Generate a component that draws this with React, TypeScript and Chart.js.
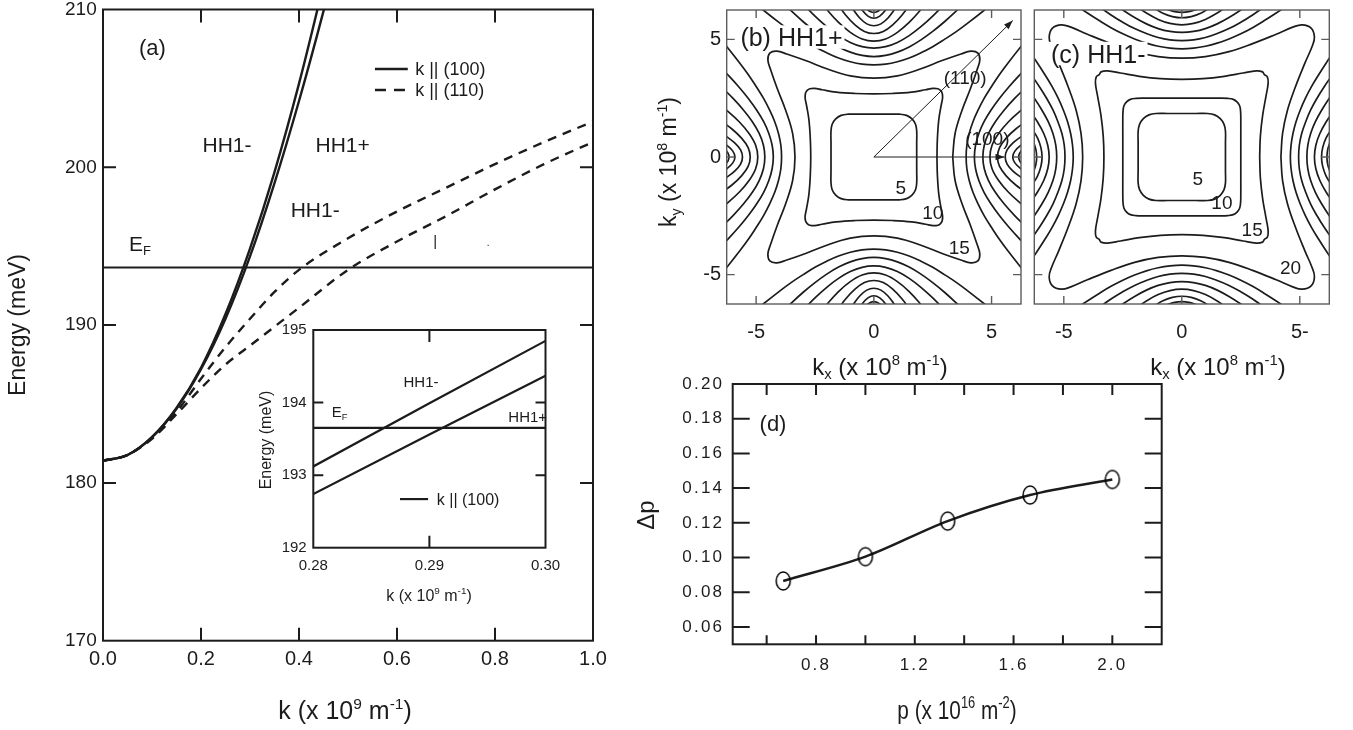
import React, { useEffect, useRef } from 'react';
import { Chart, registerables } from 'chart.js';

Chart.register(...registerables);

const FONT = '"Liberation Sans", Arial, Helvetica, sans-serif';
const INK = '#1c1c1c';
const FRAME_GRAY = '#5c5c5c';
Chart.defaults.font.family = FONT;

type Pt = [number, number];

// ================= (a) HH1 dispersion =================
const kAxisTicks = [0, 0.2, 0.4, 0.6, 0.8, 1.0];
const eAxisTicks = [170, 180, 190, 200, 210];
const kInnerMarks = [0.2, 0.4, 0.6, 0.8];
const eInnerMarks = [180, 190, 200];

const k100 = [0, 0.05, 0.1, 0.15, 0.2, 0.25, 0.3, 0.35, 0.4, 0.45, 0.5];
const eHH1minus100 = [181.4, 181.77, 182.9, 184.75, 187.3, 190.7, 194.85, 199.7, 205.3, 211.6, 218.3];
const eHH1plus100 = [181.4, 181.77, 182.9, 184.7, 187.2, 190.4, 194.35, 199.0, 204.2, 209.9, 216.0];

const k110 = [0, 0.05, 0.1, 0.15, 0.2, 0.25, 0.3, 0.35, 0.4, 0.5, 0.6, 0.7, 0.8, 0.9, 1.0];
const eHH1minus110 = [181.4, 181.77, 182.85, 184.5, 186.6, 188.6, 190.4, 192.1, 193.5, 195.5, 197.2, 198.7, 200.2, 201.6, 202.9];
const eHH1plus110 = [181.4, 181.77, 182.8, 184.35, 186.0, 187.5, 188.7, 189.9, 191.1, 193.5, 195.3, 196.9, 198.6, 200.2, 201.6];

const eFermi = 193.65;
const kFermiSpan = [0, 1];

// inset
const kInsetTicks = [0.28, 0.29, 0.3];
const eInsetTicks = [192, 193, 194, 195];
const kInsetMarks = [0.29];
const eInsetMarks = [193, 194];
const kInset = [0.28, 0.29, 0.3];
const eInsetMinus = [193.12, 193.99, 194.85];
const eInsetPlus = [192.74, 193.56, 194.37];
const kInsetFermiSpan = [0.28, 0.3];

// ================= (b), (c) constant-energy contours =================
const kContourTicks = [-5, 0, 5];
const kContourLabelsC = ['-5', '0', '5-'];
const arrowOrigin: Pt = [0, 0];
const arrow110: Pt = [5.9, 5.8];
const arrow100: Pt = [5.55, 0];

// closed contours: first octant, from the +kx axis to the diagonal
const contourB5: Pt[] = [[1.82, 0], [1.82, 0.6], [1.82, 1.1], [1.77, 1.39], [1.62, 1.62]];
const contourB10: Pt[] = [[2.68, 0], [2.7, 0.8], [2.76, 1.6], [2.86, 2.2], [2.92, 2.52], [2.9, 2.72], [2.83, 2.83]];
const contourB15: Pt[] = [[3.35, 0], [3.45, 1.0], [3.75, 2.0], [4.1, 2.9], [4.38, 3.7], [4.5, 4.12], [4.42, 4.42]];
// open contours: upper half of the +kx branch, from its vertex outwards
const openB: Pt[][] = [
  [[3.92, 0], [3.95, 0.5], [4.05, 1], [4.21, 1.5], [4.43, 2], [4.69, 2.5], [5.0, 3], [5.33, 3.5], [5.7, 4], [6.25, 4.7], [6.66, 5.2]],
  [[4.27, 0], [4.32, 0.5], [4.46, 1], [4.68, 1.5], [4.98, 2], [5.34, 2.5], [5.75, 3], [6.25, 3.55], [6.68, 4]],
  [[4.63, 0], [4.69, 0.5], [4.87, 1], [5.16, 1.5], [5.54, 2], [5.99, 2.5], [6.5, 3]],
  [[4.93, 0], [5.02, 0.5], [5.3, 1], [5.72, 1.5], [6.27, 2], [6.65, 2.3]],
  [[5.25, 0], [5.34, 0.4], [5.62, 0.8], [6.04, 1.2], [6.59, 1.6]],
  [[5.58, 0], [5.66, 0.3], [5.91, 0.6], [6.3, 0.9]],
  [[5.9, 0], [5.99, 0.25], [6.25, 0.5], [6.57, 0.7]],
  [[6.15, 0], [6.19, 0.15], [6.29, 0.3]],
];

const contourC5: Pt[] = [[1.85, 0], [1.85, 0.6], [1.85, 1.1], [1.79, 1.39], [1.63, 1.63]];
const contourC10: Pt[] = [[2.5, 0], [2.5, 0.9], [2.5, 1.6], [2.49, 1.95], [2.45, 2.18], [2.34, 2.34]];
const contourC15: Pt[] = [[3.3, 0], [3.33, 0.9], [3.43, 1.8], [3.57, 2.6], [3.66, 3.15], [3.62, 3.42], [3.5, 3.5]];
const contourC20: Pt[] = [[4.2, 0], [4.27, 1.0], [4.48, 2.0], [4.82, 3.0], [5.22, 4.0], [5.52, 4.7], [5.62, 5.1], [5.48, 5.48]];
const openC: Pt[][] = [
  [[4.6, 0], [4.63, 0.5], [4.71, 1], [4.84, 1.5], [5.02, 2], [5.24, 2.5], [5.5, 3], [5.8, 3.5], [6.12, 4], [6.53, 4.6]],
  [[4.95, 0], [4.98, 0.5], [5.08, 1], [5.25, 1.5], [5.46, 2], [5.73, 2.5], [6.04, 3], [6.39, 3.5]],
  [[5.3, 0], [5.34, 0.5], [5.46, 1], [5.66, 1.5], [5.93, 2], [6.25, 2.5], [6.47, 2.8]],
  [[5.62, 0], [5.68, 0.5], [5.85, 1], [6.12, 1.5], [6.4, 1.9]],
  [[5.92, 0], [5.97, 0.4], [6.11, 0.8], [6.35, 1.2]],
  [[6.15, 0], [6.18, 0.3], [6.27, 0.6], [6.36, 0.8]],
];

// ================= (d) spin polarisation =================
const pTicks = [0.8, 1.2, 1.6, 2.0];
const pMarks = [0.6, 0.8, 1.0, 1.2, 1.4, 1.6, 1.8, 2.0];
const dpTicks = [0.06, 0.08, 0.1, 0.12, 0.14, 0.16, 0.18, 0.2];
const pDensity = [0.667, 1.0, 1.333, 1.667, 2.0];
const deltaP = [0.0865, 0.1005, 0.121, 0.136, 0.145];

// ================= helpers =================
const xy = (xs: number[], ys: number[]) => xs.map((x, i) => ({ x, y: ys[i] }));
const ptsXY = (c: Pt[]) => c.map(([x, y]) => ({ x, y }));

function closedLoop(oct: Pt[]): Pt[] {
  const q1: Pt[] = [...oct, ...oct.slice(0, -1).reverse().map(([x, y]) => [y, x] as Pt)];
  const q2 = q1.slice().reverse().map(([x, y]) => [-x, y] as Pt);
  const q3 = q1.map(([x, y]) => [-x, -y] as Pt);
  const q4 = q1.slice().reverse().map(([x, y]) => [x, -y] as Pt);
  return [...q1, ...q2.slice(1), ...q3.slice(1), ...q4.slice(1)];
}
function openCurve(half: Pt[]): Pt[] {
  return [...half.slice(1).reverse().map(([x, y]) => [x, -y] as Pt), ...half];
}
function fourFold(c: Pt[]): Pt[][] {
  return [
    c,
    c.map(([x, y]) => [-x, y] as Pt),
    c.map(([x, y]) => [y, x] as Pt),
    c.map(([x, y]) => [y, -x] as Pt),
  ];
}

function parseRich(s: string) {
  const segs: { t: string; m: number }[] = [];
  let buf = '';
  let i = 0;
  while (i < s.length) {
    const c = s[i];
    if ((c === '^' || c === '_') && s[i + 1] === '{') {
      if (buf) { segs.push({ t: buf, m: 0 }); buf = ''; }
      const j = s.indexOf('}', i);
      segs.push({ t: s.slice(i + 2, j), m: c === '^' ? 1 : 2 });
      i = j + 1;
    } else { buf += c; i++; }
  }
  if (buf) segs.push({ t: buf, m: 0 });
  return segs;
}

function drawRich(ctx: CanvasRenderingContext2D, s: string, x: number, y: number, size: number,
  align: 'left' | 'center' | 'right' = 'center', rot = 0, sx = 1, bg = false) {
  const segs = parseRich(s);
  const small = size * 0.62;
  ctx.save();
  ctx.translate(x, y);
  if (rot) ctx.rotate(rot);
  if (sx !== 1) ctx.scale(sx, 1);
  ctx.textAlign = 'left';
  ctx.textBaseline = 'alphabetic';
  const widths = segs.map((g) => { ctx.font = `${g.m ? small : size}px ${FONT}`; return ctx.measureText(g.t).width; });
  const total = widths.reduce((a, b) => a + b, 0);
  let cx = align === 'center' ? -total / 2 : align === 'right' ? -total : 0;
  if (bg) { ctx.fillStyle = '#ffffff'; ctx.fillRect(cx - 2, -size * 0.47, total + 4, size * 0.94); }
  ctx.fillStyle = INK;
  const base = size * 0.36;
  segs.forEach((g, i) => {
    ctx.font = `${g.m ? small : size}px ${FONT}`;
    const dy = g.m === 1 ? -size * 0.42 : g.m === 2 ? size * 0.2 : 0;
    ctx.fillText(g.t, cx, base + dy);
    cx += widths[i];
  });
  ctx.restore();
}

type Mark = { side: 'top' | 'bottom' | 'left' | 'right'; values: number[]; len: number };
type Txt = { x: number; y: number; s: string; size: number; align?: 'left' | 'center' | 'right'; bg?: boolean };
type Ttl = { x: number; y: number; s: string; size: number; rot?: boolean; sx?: number };
type Leg = { x0: number; x1: number; y: number; width: number; dash?: number[] };
type Decor = {
  off: Pt; boxColor: string; boxWidth: number; markColor: string; markWidth: number; marks: Mark[];
  texts?: Txt[]; titles?: Ttl[]; legend?: Leg[]; arrows?: { from: Pt; to: Pt }[]; spacing?: string;
};

function makeDecor(d: Decor) {
  return {
    id: 'decor',
    beforeDraw(chart: any) {
      if (d.spacing) (chart.ctx as any).letterSpacing = d.spacing;
    },
    afterDraw(chart: any) {
      const ctx = chart.ctx as CanvasRenderingContext2D;
      const { left, right, top, bottom } = chart.chartArea;
      const X = chart.scales.x;
      const Y = chart.scales.y;
      ctx.save();
      (ctx as any).letterSpacing = '0px';
      for (const l of d.legend || []) {
        ctx.beginPath();
        ctx.setLineDash(l.dash || []);
        ctx.lineWidth = l.width;
        ctx.strokeStyle = INK;
        const py = Y.getPixelForValue(l.y);
        ctx.moveTo(X.getPixelForValue(l.x0), py);
        ctx.lineTo(X.getPixelForValue(l.x1), py);
        ctx.stroke();
      }
      ctx.setLineDash([]);
      for (const a of d.arrows || []) {
        const x0 = X.getPixelForValue(a.from[0]), y0 = Y.getPixelForValue(a.from[1]);
        const x1 = X.getPixelForValue(a.to[0]), y1 = Y.getPixelForValue(a.to[1]);
        const ang = Math.atan2(y1 - y0, x1 - x0);
        const L = 9, W = 3.2;
        ctx.beginPath();
        ctx.moveTo(x1, y1);
        ctx.lineTo(x1 - L * Math.cos(ang) + W * Math.sin(ang), y1 - L * Math.sin(ang) - W * Math.cos(ang));
        ctx.lineTo(x1 - L * Math.cos(ang) - W * Math.sin(ang), y1 - L * Math.sin(ang) + W * Math.cos(ang));
        ctx.closePath();
        ctx.fillStyle = INK;
        ctx.fill();
      }
      for (const t of d.texts || []) {
        drawRich(ctx, t.s, X.getPixelForValue(t.x), Y.getPixelForValue(t.y), t.size, t.align || 'center', 0, 1, !!t.bg);
      }
      ctx.strokeStyle = d.boxColor;
      ctx.lineWidth = d.boxWidth;
      ctx.strokeRect(left, top, right - left, bottom - top);
      ctx.strokeStyle = d.markColor;
      ctx.lineWidth = d.markWidth;
      ctx.beginPath();
      for (const m of d.marks) {
        for (const v of m.values) {
          if (m.side === 'bottom') { const p = X.getPixelForValue(v); ctx.moveTo(p, bottom); ctx.lineTo(p, bottom - m.len); }
          if (m.side === 'top') { const p = X.getPixelForValue(v); ctx.moveTo(p, top); ctx.lineTo(p, top + m.len); }
          if (m.side === 'left') { const p = Y.getPixelForValue(v); ctx.moveTo(left, p); ctx.lineTo(left + m.len, p); }
          if (m.side === 'right') { const p = Y.getPixelForValue(v); ctx.moveTo(right, p); ctx.lineTo(right - m.len, p); }
        }
      }
      ctx.stroke();
      for (const t of d.titles || []) {
        drawRich(ctx, t.s, t.x - d.off[0], t.y - d.off[1], t.size, 'center', t.rot ? -Math.PI / 2 : 0, t.sx || 1);
      }
      ctx.restore();
    },
  };
}

type AxisSpec = {
  min: number; max: number; ticks: number[]; size: number; pad: number; fit: number; horizontal: boolean;
  fmt?: (v: number) => string; show?: boolean;
};
function axis(a: AxisSpec) {
  return {
    type: 'linear',
    position: a.horizontal ? 'bottom' : 'left',
    min: a.min,
    max: a.max,
    grid: { display: false, drawTicks: false },
    border: { display: false },
    ticks: {
      display: a.show !== false,
      autoSkip: false,
      maxRotation: 0,
      minRotation: 0,
      padding: a.pad,
      color: INK,
      font: { family: FONT, size: a.size },
      callback: (v: any) => (a.fmt ? a.fmt(Number(v)) : String(v)),
    },
    afterBuildTicks: (s: any) => { s.ticks = a.ticks.map((value) => ({ value })); },
    afterFit: (s: any) => {
      if (a.horizontal) s.height = a.fit; else s.width = a.fit;
      s.paddingLeft = 0; s.paddingRight = 0; s.paddingTop = 0; s.paddingBottom = 0;
    },
  };
}

function baseOptions(padding: any, x: any, y: any) {
  return {
    responsive: false,
    animation: false,
    devicePixelRatio: 1,
    events: [],
    layout: { padding },
    plugins: { legend: { display: false }, tooltip: { enabled: false }, title: { display: false } },
    scales: { x, y },
  };
}

const lineDs = (data: any[], extra: any = {}) => ({
  data, showLine: true, pointRadius: 0, borderColor: INK, borderWidth: 2.4, fill: false, ...extra,
});

function contourSets(closed: Pt[][], open: Pt[][]) {
  const sets: any[] = [];
  for (const oct of closed) sets.push(lineDs(ptsXY(closedLoop(oct)), { borderWidth: 1.7, tension: 0.4 }));
  for (const half of open) {
    for (const c of fourFold(openCurve(half))) sets.push(lineDs(ptsXY(c), { borderWidth: 1.7, tension: 0.4 }));
  }
  return sets;
}

// ================= chart builders =================
function buildA() {
  const mono = { cubicInterpolationMode: 'monotone' };
  return {
    type: 'scatter',
    data: {
      datasets: [
        lineDs(xy(k100, eHH1minus100), { ...mono, borderWidth: 2.4 }),
        lineDs(xy(k100, eHH1plus100), { ...mono, borderWidth: 2.4 }),
        lineDs(xy(k110, eHH1minus110), { ...mono, borderWidth: 2.4, borderDash: [9, 7] }),
        lineDs(xy(k110, eHH1plus110), { ...mono, borderWidth: 2.4, borderDash: [9, 7] }),
        lineDs(xy(kFermiSpan, [eFermi, eFermi]), { borderWidth: 2.2 }),
      ],
    },
    options: baseOptions(
      { left: 0, top: 9.5, right: 27, bottom: 0 },
      axis({ min: 0, max: 1, ticks: kAxisTicks, size: 20, pad: 6.3, fit: 89.3, horizontal: true, fmt: (v) => v.toFixed(1) }),
      axis({ min: 170, max: 210, ticks: eAxisTicks, size: 19, pad: 6.3, fit: 103, horizontal: false }),
    ),
    plugins: [makeDecor({
      off: [0, 0], boxColor: INK, boxWidth: 2, markColor: INK, markWidth: 2,
      marks: [
        { side: 'bottom', values: kInnerMarks, len: 13 }, { side: 'top', values: kInnerMarks, len: 13 },
        { side: 'left', values: eInnerMarks, len: 13 }, { side: 'right', values: eInnerMarks, len: 13 },
      ],
      legend: [
        { x0: 0.555, x1: 0.622, y: 206.23, width: 2.5 },
        { x0: 0.555, x1: 0.622, y: 204.9, width: 2.5, dash: [11, 8] },
      ],
      texts: [
        { x: 0.101, y: 207.6, s: '(a)', size: 22 },
        { x: 0.253, y: 201.45, s: 'HH1-', size: 21 },
        { x: 0.489, y: 201.45, s: 'HH1+', size: 21 },
        { x: 0.433, y: 197.3, s: 'HH1-', size: 21 },
        { x: 0.0755, y: 195.2, s: 'E_{F}', size: 21 },
        { x: 0.637, y: 206.23, s: 'k || (100)', size: 18, align: 'left' },
        { x: 0.637, y: 204.9, s: 'k || (110)', size: 18, align: 'left' },
        { x: 0.678, y: 195.36, s: '|', size: 15 },
        { x: 0.786, y: 195.25, s: '.', size: 10 },
      ],
      titles: [
        { x: 345, y: 710, s: 'k (x 10^{9} m^{-1})', size: 25 },
        { x: 17, y: 325, s: 'Energy (meV)', size: 23, rot: true },
      ],
    })],
  };
}

function buildInset() {
  return {
    type: 'scatter',
    data: {
      datasets: [
        lineDs(xy(kInset, eInsetMinus), { borderWidth: 2.2 }),
        lineDs(xy(kInset, eInsetPlus), { borderWidth: 2.2 }),
        lineDs(xy(kInsetFermiSpan, [eFermi, eFermi]), { borderWidth: 2.2 }),
      ],
    },
    options: baseOptions(
      { left: 0, top: 12, right: 24.5, bottom: 0 },
      axis({ min: 0.28, max: 0.3, ticks: kInsetTicks, size: 15, pad: 9.3, fit: 62.3, horizontal: true, fmt: (v) => v.toFixed(2) }),
      axis({ min: 192, max: 195, ticks: eInsetTicks, size: 15, pad: 6.6, fit: 73.3, horizontal: false }),
    ),
    plugins: [makeDecor({
      off: [240, 318], boxColor: INK, boxWidth: 2, markColor: INK, markWidth: 2,
      marks: [
        { side: 'bottom', values: kInsetMarks, len: 12 }, { side: 'top', values: kInsetMarks, len: 12 },
        { side: 'left', values: eInsetMarks, len: 10 }, { side: 'right', values: eInsetMarks, len: 10 },
      ],
      legend: [{ x0: 0.28747, x1: 0.28989, y: 192.67, width: 2.2 }],
      texts: [
        { x: 0.28928, y: 194.29, s: 'HH1-', size: 15 },
        { x: 0.28159, y: 193.87, s: 'E_{F}', size: 15, align: 'left' },
        { x: 0.29847, y: 193.8, s: 'HH1+', size: 15 },
        { x: 0.29064, y: 192.67, s: 'k || (100)', size: 16, align: 'left' },
      ],
      titles: [
        { x: 265, y: 440, s: 'Energy (meV)', size: 16, rot: true },
        { x: 429, y: 595, s: 'k (x 10^{9} m^{-1})', size: 16 },
      ],
    })],
  };
}

function buildB() {
  return {
    type: 'scatter',
    data: {
      datasets: [
        ...contourSets([contourB5, contourB10, contourB15], openB),
        lineDs(ptsXY([arrowOrigin, arrow110]), { borderWidth: 1 }),
        lineDs(ptsXY([arrowOrigin, arrow100]), { borderWidth: 1 }),
      ],
    },
    options: baseOptions(
      { left: 0, top: 10, right: 9, bottom: 0 },
      axis({ min: -6.25, max: 6.25, ticks: kContourTicks, size: 20, pad: 16, fit: 81, horizontal: true }),
      axis({ min: -6.25, max: 6.25, ticks: kContourTicks, size: 20, pad: 5.7, fit: 86.7, horizontal: false }),
    ),
    plugins: [makeDecor({
      off: [640, 0], boxColor: FRAME_GRAY, boxWidth: 1.4, markColor: FRAME_GRAY, markWidth: 1.4,
      marks: [
        { side: 'bottom', values: kContourTicks, len: 8 }, { side: 'top', values: kContourTicks, len: 8 },
        { side: 'left', values: kContourTicks, len: 8 }, { side: 'right', values: kContourTicks, len: 8 },
      ],
      arrows: [{ from: arrowOrigin, to: arrow110 }, { from: arrowOrigin, to: arrow100 }],
      texts: [
        { x: -3.5, y: 5.1, s: '(b) HH1+', size: 25, bg: true },
        { x: 1.14, y: -1.3, s: '5', size: 19 },
        { x: 2.5, y: -2.35, s: '10', size: 19 },
        { x: 3.63, y: -3.83, s: '15', size: 19 },
        { x: 3.88, y: 3.38, s: '(110)', size: 19 },
        { x: 4.82, y: 0.79, s: '(100)', size: 19 },
      ],
      titles: [
        { x: 880, y: 366, s: 'k_{x} (x 10^{8} m^{-1})', size: 24 },
        { x: 668, y: 162, s: 'k_{y} (x 10^{8} m^{-1})', size: 23, rot: true },
      ],
    })],
  };
}

function buildC() {
  return {
    type: 'scatter',
    data: { datasets: contourSets([contourC5, contourC10, contourC15, contourC20], openC) },
    options: baseOptions(
      { left: 0, top: 10, right: 23.7, bottom: 0 },
      axis({
        min: -6.25, max: 6.25, ticks: kContourTicks, size: 20, pad: 16, fit: 81, horizontal: true,
        fmt: (v) => kContourLabelsC[kContourTicks.indexOf(v)] ?? String(v),
      }),
      axis({ min: -6.25, max: 6.25, ticks: kContourTicks, size: 20, pad: 5, fit: 4.3, horizontal: false, show: false }),
    ),
    plugins: [makeDecor({
      off: [1030, 0], boxColor: FRAME_GRAY, boxWidth: 1.4, markColor: FRAME_GRAY, markWidth: 1.4,
      marks: [
        { side: 'bottom', values: kContourTicks, len: 8 }, { side: 'top', values: kContourTicks, len: 8 },
        { side: 'left', values: kContourTicks, len: 8 }, { side: 'right', values: kContourTicks, len: 8 },
      ],
      texts: [
        { x: -3.54, y: 4.4, s: '(c) HH1-', size: 25, bg: true },
        { x: 0.68, y: -0.88, s: '5', size: 19 },
        { x: 1.7, y: -1.94, s: '10', size: 19 },
        { x: 2.98, y: -3.06, s: '15', size: 19 },
        { x: 4.61, y: -4.69, s: '20', size: 19 },
      ],
      titles: [{ x: 1218, y: 366, s: 'k_{x} (x 10^{8} m^{-1})', size: 24 }],
    })],
  };
}

function ringImage() {
  const c = document.createElement('canvas');
  c.width = 18;
  c.height = 22;
  const g = c.getContext('2d')!;
  g.strokeStyle = '#000000';
  g.lineWidth = 1.5;
  g.beginPath();
  g.ellipse(9, 11, 7, 9, 0, 0, Math.PI * 2);
  g.stroke();
  return c;
}

function buildD() {
  return {
    type: 'scatter',
    data: {
      datasets: [
        lineDs(xy(pDensity, deltaP), {
          borderWidth: 2.5, cubicInterpolationMode: 'monotone',
          pointRadius: 7, pointStyle: ringImage(),
        }),
      ],
    },
    options: baseOptions(
      { left: 0, top: 12, right: 191.3, bottom: 0 },
      axis({ min: 0.4625, max: 2.2, ticks: pTicks, size: 17, pad: 10.5, fit: 85.7, horizontal: true, fmt: (v) => v.toFixed(1) }),
      axis({ min: 0.05, max: 0.2, ticks: dpTicks, size: 17, pad: 8.5, fit: 112.7, horizontal: false, fmt: (v) => v.toFixed(2) }),
    ),
    plugins: [makeDecor({
      off: [620, 372], boxColor: INK, boxWidth: 2, markColor: INK, markWidth: 2, spacing: '2.2px',
      marks: [
        { side: 'bottom', values: pMarks, len: 9 }, { side: 'top', values: pMarks, len: 11 },
        { side: 'left', values: dpTicks, len: 17 }, { side: 'right', values: dpTicks, len: 17 },
      ],
      texts: [{ x: 0.6257, y: 0.1775, s: '(d)', size: 22 }],
      titles: [
        { x: 957, y: 710, s: 'p (x 10^{16} m^{-2})', size: 26, sx: 0.8 },
        { x: 645, y: 515, s: 'Δp', size: 24, rot: true },
      ],
    })],
  };
}

function Panel({ left, top, width, height, build }: { left: number; top: number; width: number; height: number; build: () => any }) {
  const ref = useRef<HTMLCanvasElement | null>(null);
  useEffect(() => {
    if (!ref.current) return;
    const chart = new Chart(ref.current, build());
    return () => chart.destroy();
  }, [build]);
  return (
    <canvas
      ref={ref}
      width={width}
      height={height}
      style={{ position: 'absolute', left, top, width, height }}
    />
  );
}

export default function App() {
  return (
    <div style={{ position: 'absolute', left: 0, top: 0, width: 1353, height: 730, background: '#ffffff', overflow: 'hidden' }}>
      <Panel left={0} top={0} width={620} height={730} build={buildA} />
      <Panel left={240} top={318} width={330} height={292} build={buildInset} />
      <Panel left={640} top={0} width={390} height={385} build={buildB} />
      <Panel left={1030} top={0} width={323} height={385} build={buildC} />
      <Panel left={620} top={372} width={733} height={358} build={buildD} />
    </div>
  );
}
